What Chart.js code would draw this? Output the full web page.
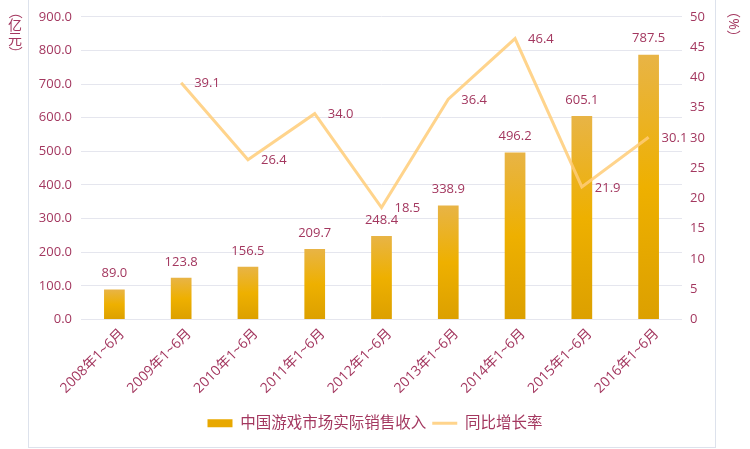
<!DOCTYPE html>
<html>
<head>
<meta charset="utf-8">
<script src="https://cdn.jsdelivr.net/npm/chart.js@4.4.1/dist/chart.umd.min.js"></script>
<style>
  html, body { margin: 0; padding: 0; background: #fff; }
  #wrap { width: 750px; height: 449px; }
</style>
</head>
<body>
<div id="wrap"><canvas id="mycanvas"></canvas></div>
<script>
var periods = ['2008年1~6月', '2009年1~6月', '2010年1~6月', '2011年1~6月', '2012年1~6月',
               '2013年1~6月', '2014年1~6月', '2015年1~6月', '2016年1~6月'];
var revenue = [89.0, 123.8, 156.5, 209.7, 248.4, 338.9, 496.2, 605.1, 787.5];
var growth = [null, 39.1, 26.4, 34.0, 18.5, 36.4, 46.4, 21.9, 30.1];

var textColor = '#A3375F';
var lineColor = 'rgba(255, 204, 120, 0.85)';
var fontFamily = '"Open Sans", "Noto Sans CJK SC", sans-serif';

function barGradient(ctx) {
	var chart = ctx.chart;
	var scale = chart.scales && chart.scales.y;
	if (!chart.chartArea || !scale || ctx.dataIndex === undefined) return '#EBAE00';
	var top = scale.getPixelForValue(revenue[ctx.dataIndex]);
	var bottom = scale.getPixelForValue(0);
	var g = chart.ctx.createLinearGradient(0, top, 0, bottom);
	g.addColorStop(0, '#E8B446');
	g.addColorStop(0.5, '#EEB000');
	g.addColorStop(1, '#DCA000');
	return g;
}

function rotatedChar(c, ch, x, y) {
	c.save();
	c.translate(x, y);
	c.rotate(Math.PI / 2);
	c.fillText(ch, 0, 0);
	c.restore();
}

// frame, axis titles and value labels
var extras = {
	id: 'extras',
	beforeDraw: function(chart) {
		var c = chart.ctx;
		c.save();
		c.strokeStyle = '#DDE2EC';
		c.lineWidth = 1;
		c.strokeRect(28.5, -1, 687, 448.5);
		c.restore();
	},
	afterDatasetsDraw: function(chart) {
		var c = chart.ctx;
		c.save();
		c.fillStyle = textColor;
		c.font = '13px ' + fontFamily;

		var bars = chart.getDatasetMeta(0).data;
		c.textAlign = 'center';
		c.textBaseline = 'middle';
		bars.forEach(function(b, i) {
			c.fillText(revenue[i].toFixed(1), b.x, b.y - 16);
		});

		var pts = chart.getDatasetMeta(1).data;
		c.textAlign = 'left';
		pts.forEach(function(p, i) {
			if (growth[i] === null) return;
			c.fillText(growth[i].toFixed(1), p.x + 13, p.y + 1);
		});

		// left axis title, stacked vertically
		c.textAlign = 'center';
		c.font = '14px ' + fontFamily;
		rotatedChar(c, '（', 15, 12);
		c.fillText('亿', 15, 26);
		c.fillText('元', 15, 40);
		rotatedChar(c, '）', 15, 53);

		// right axis title, rotated
		c.translate(733, 24);
		c.rotate(Math.PI / 2);
		c.fillText('（%）', 0, 0);
		c.restore();
	}
};

var ctx = document.getElementById('mycanvas');

var chart = new Chart(ctx, {
	type: 'bar',
	data: {
		labels: periods,
		datasets: [
			{
				label: '中国游戏市场实际销售收入',
				data: revenue,
				yAxisID: 'y',
				backgroundColor: barGradient,
				barPercentage: 0.31,
				categoryPercentage: 1,
				order: 2
			},
			{
				label: '同比增长率',
				type: 'line',
				data: growth,
				yAxisID: 'y1',
				borderColor: lineColor,
				borderWidth: 3,
				pointRadius: 0,
				tension: 0,
				order: 1
			}
		]
	},
	options: {
		responsive: true,
		maintainAspectRatio: false,
		animation: false,
		layout: { padding: { left: 0, right: 0, top: 15, bottom: 8 } },
		plugins: {
			tooltip: { enabled: false },
			legend: {
				position: 'bottom',
				labels: {
					usePointStyle: true,
					pointStyleWidth: 25,
					boxHeight: 8,
					padding: 6,
					color: textColor,
					font: { size: 15.5, family: fontFamily },
					generateLabels: function(chart) {
						return [
							{ text: '中国游戏市场实际销售收入', fillStyle: '#E8A800', strokeStyle: '#E8A800',
							  lineWidth: 0, pointStyle: 'rect', datasetIndex: 0, fontColor: textColor },
							{ text: '同比增长率', fillStyle: lineColor, strokeStyle: lineColor,
							  lineWidth: 3, pointStyle: 'line', datasetIndex: 1, fontColor: textColor }
						];
					}
				}
			}
		},
		scales: {
			x: {
				grid: { display: false, drawTicks: false },
				border: { display: false },
				ticks: {
					color: textColor,
					font: { size: 14, family: fontFamily },
					maxRotation: 45,
					minRotation: 45,
					labelOffset: 8,
					padding: 6
				},
				afterFit: function(s) { s.height = 90; }
			},
			y: {
				position: 'left',
				min: 0,
				max: 900,
				grid: { color: '#E5E6EE', drawTicks: false },
				border: { display: false },
				ticks: {
					stepSize: 100,
					color: textColor,
					padding: 9,
					font: { size: 13, family: fontFamily },
					callback: function(v) { return v.toFixed(1); }
				},
				afterFit: function(s) { s.width = 81; }
			},
			y1: {
				position: 'right',
				min: 0,
				max: 50,
				grid: { display: false, drawTicks: false },
				border: { display: false },
				ticks: {
					stepSize: 5,
					color: textColor,
					padding: 8,
					font: { size: 13, family: fontFamily }
				},
				afterFit: function(s) { s.width = 68; }
			}
		}
	},
	plugins: [extras]
});
</script>
</body>
</html>
